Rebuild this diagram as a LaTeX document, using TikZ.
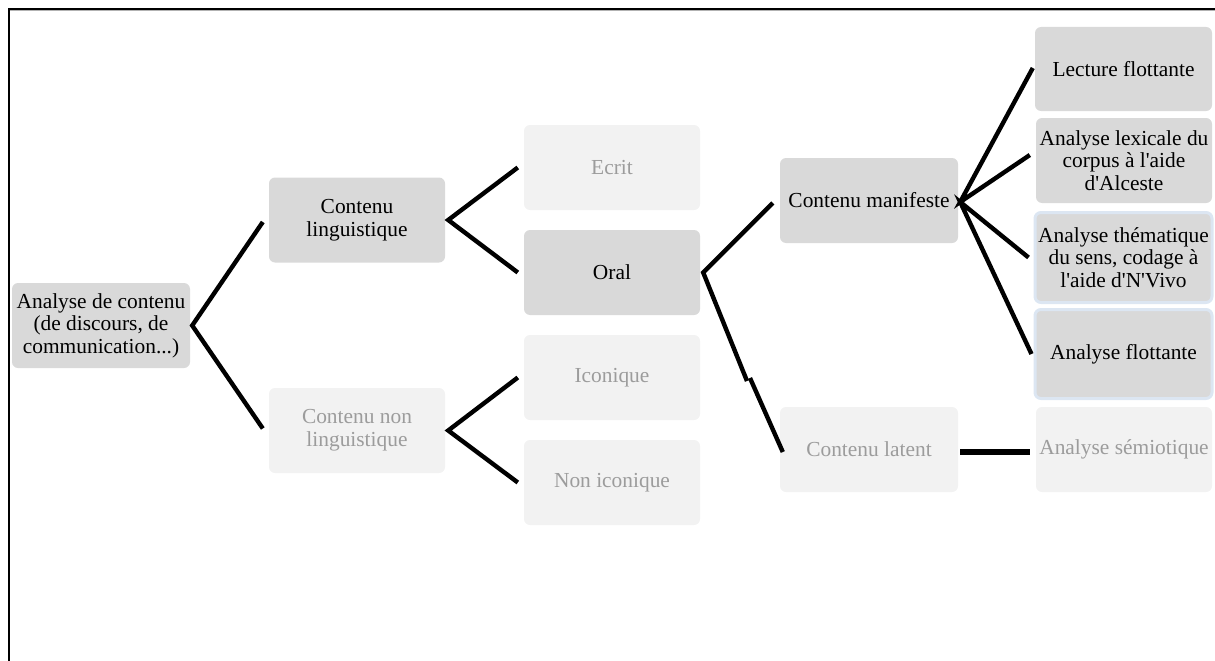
\documentclass[tikz,border=0pt]{standalone}
\usepackage{fontspec}
\setmainfont{Liberation Serif}
\usetikzlibrary{positioning}
\definecolor{darkfill}{HTML}{D9D9D9}
\definecolor{lightfill}{HTML}{F2F2F2}
\definecolor{lighttext}{HTML}{9C9C9C}
\definecolor{blueedge}{HTML}{DCE6F2}
\newcommand\sq{\textquotesingle}
\tikzset{
  box/.style={rectangle, rounded corners=6pt, align=center, inner sep=2pt,
    font=\fontsize{21.4}{22.6}\selectfont, minimum width=176pt, minimum height=85pt},
  darkbox/.style={box, fill=darkfill, text=black},
  lightbox/.style={box, fill=lightfill, text=lighttext},
  bluebox/.style={box, fill=darkfill, text=black, draw=blueedge, line width=3pt,
    minimum width=177pt, minimum height=90pt},
  conn/.style={line width=4.4pt, black},
  frameline/.style={line width=2pt, black}
}
\begin{document}
\begin{tikzpicture}[x=1pt,y=-1pt]
\useasboundingbox (0,0) rectangle (1215,661);
% frame
\draw[gray!60, line width=1pt] (9,11) -- (1215,11);
\draw[frameline] (8.5,661) -- (8.5,9.5) -- (1215,9.5);

% nodes
\node[darkbox, minimum width=178pt] (root) at (101,325.5) {Analyse de contenu\\(de discours, de\\communication...)};
\node[darkbox] (cl) at (357,220) {Contenu\\linguistique};
\node[lightbox] (cnl) at (357,430.5) {Contenu non\\linguistique};
\node[lightbox] (ecrit) at (612,167.5) {Ecrit};
\node[darkbox] (oral) at (612,272.5) {Oral};
\node[lightbox] (icon) at (612,377.5) {Iconique};
\node[lightbox] (nonicon) at (612,482.5) {Non iconique};
\node[darkbox, minimum width=178pt] (manif) at (869,200.5) {Contenu manifeste};
\node[lightbox, minimum width=178pt] (latent) at (869,449.5) {Contenu latent};
\node[darkbox, minimum width=177pt, minimum height=84pt] (lecture) at (1123.5,69) {Lecture flottante};
\node[darkbox] (lexi) at (1124,160.5) {Analyse lexicale du\\corpus à l\sq aide\\d\sq Alceste};
\node[bluebox] (thema) at (1123.5,257.5) {Analyse thématique\\du sens, codage à\\l\sq aide d\sq N\sq Vivo};
\node[bluebox, minimum height=89pt] (aflot) at (1123.5,354) {Analyse flottante};
\node[lightbox] (semio) at (1124,449.5) {Analyse sémiotique};

% connectors
\draw[conn] ([xshift=-6pt,yshift=-2pt]cl.west) -- ([xshift=2pt]root.east) -- ([xshift=-6pt,yshift=2pt]cnl.west);
\draw[conn] ([xshift=-6pt]ecrit.west) -- ([xshift=3pt]cl.east) -- ([xshift=-6pt]oral.west);
\draw[conn] ([xshift=-6pt]icon.west) -- ([xshift=3pt]cnl.east) -- ([xshift=-6pt]nonicon.west);
\coordinate (kinkA) at (747,381);
\coordinate (kinkB) at (750,378);
\draw[conn] ([xshift=-7pt,yshift=-2.5pt]manif.west) -- ([xshift=3pt]oral.east) -- (kinkA);
\draw[conn] (kinkB) -- ([xshift=3pt,yshift=-2.5pt]latent.west);
\draw[conn] ([xshift=-2pt,yshift=1pt]lecture.west) -- ([xshift=2pt,yshift=-1.5pt]manif.east) -- ([xshift=-6pt,yshift=5.5pt]lexi.west);
\draw[conn] ([xshift=-5pt]thema.west) -- ([xshift=2pt,yshift=-1.5pt]manif.east) -- ([xshift=-2pt]aflot.west);
\draw[line width=5.5pt] ([xshift=2pt,yshift=-2.5pt]latent.east) -- ([xshift=-6pt,yshift=-2.5pt]semio.west);
\end{tikzpicture}
\end{document}
